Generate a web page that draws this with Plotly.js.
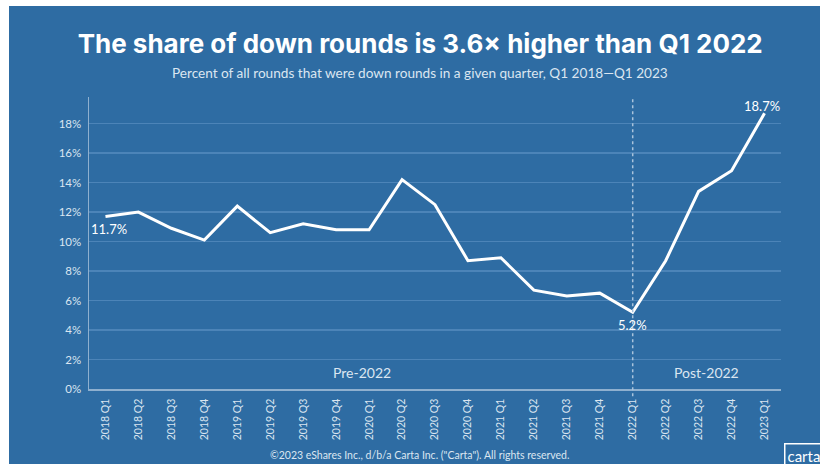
<!DOCTYPE html>
<html>
<head>
<meta charset="utf-8">
<script src="https://cdn.plot.ly/plotly-3.0.1.min.js"></script>
<style>
html,body{margin:0;padding:0;background:#ffffff;width:820px;height:464px;overflow:hidden;}
#chart{position:absolute;left:9px;top:6px;width:811px;height:458px;}
</style>
</head>
<body>
<div id="chart"></div>
<script>
const quarters = ["2018 Q1","2018 Q2","2018 Q3","2018 Q4","2019 Q1","2019 Q2","2019 Q3","2019 Q4",
  "2020 Q1","2020 Q2","2020 Q3","2020 Q4","2021 Q1","2021 Q2","2021 Q3","2021 Q4",
  "2022 Q1","2022 Q2","2022 Q3","2022 Q4","2023 Q1"];
const downRoundShare = [11.7,12.0,10.9,10.1,12.4,10.6,11.2,10.8,10.8,14.2,12.5,8.7,8.9,6.7,6.3,6.5,5.2,8.7,13.4,14.8,18.7];
const yTickVals = [0,2,4,6,8,10,12,14,16,18];
const yTickText = ["0%","2%","4%","6%","8%","10%","12%","14%","16%","18%"];

const BLUE = "#2e6ca3";
const LIGHT = "#dbe6f1";
const FONT = "Lato, 'Noto Sans', sans-serif";

const trace = {
  type: "scatter", mode: "lines",
  x: quarters, y: downRoundShare,
  line: {color: "#ffffff", width: 3},
  hoverinfo: "skip"
};

const layout = {
  width: 811, height: 458,
  paper_bgcolor: BLUE, plot_bgcolor: BLUE,
  margin: {l: 80, r: 39, t: 91, b: 75},
  showlegend: false,
  font: {family: FONT, color: LIGHT},
  title: {
    text: "<b>The share of down rounds is 3.6× higher than Q1 2022</b>",
    font: {family: "Inter, 'Noto Sans', sans-serif", size: 26, color: "#ffffff"},
    xref: "container", yref: "container", x: 0.507, y: 0.917,
    xanchor: "center", yanchor: "middle"
  },
  xaxis: {
    type: "category", range: [-0.5, 20.5], fixedrange: true,
    showgrid: false, zeroline: false,
    showline: true, linecolor: "#8fb0cf", linewidth: 1.5,
    ticks: "", tickangle: -90, ticklabelstandoff: 4,
    tickfont: {family: FONT, size: 10.5, color: LIGHT}
  },
  yaxis: {
    range: [0, 19.8], fixedrange: true,
    tickvals: yTickVals, ticktext: yTickText,
    showgrid: true, gridcolor: "#4c84b8", gridwidth: 1.2,
    zeroline: false,
    showline: true, linecolor: "#8fb0cf", linewidth: 1.5,
    ticks: "", ticklabelstandoff: 4,
    tickfont: {family: FONT, size: 11.5, color: LIGHT}
  },
  shapes: [{
    type: "line", xref: "x", yref: "paper",
    x0: "2022 Q1", x1: "2022 Q1", y0: -0.025, y1: 1,
    line: {color: "#a9c3dc", width: 1.5, dash: "dot"}
  }],
  annotations: [
    {xref: "paper", yref: "paper", x: 0.478, y: 1.082, xanchor: "center", yanchor: "middle",
     text: "Percent of all rounds that were down rounds in a given quarter, Q1 2018—Q1 2023",
     showarrow: false, font: {family: FONT, size: 13.6, color: LIGHT}},
    {xref: "x", yref: "y", x: quarters[0], y: downRoundShare[0], xanchor: "left", yanchor: "middle",
     xshift: -16, yshift: -13, text: "11.7%", showarrow: false,
     font: {family: FONT, size: 13, color: "#ffffff"}},
    {xref: "x", yref: "y", x: quarters[16], y: downRoundShare[16], xanchor: "center", yanchor: "middle",
     yshift: -13, text: "5.2%", showarrow: false,
     font: {family: FONT, size: 13, color: "#ffffff"}},
    {xref: "x", yref: "y", x: quarters[20], y: downRoundShare[20], xanchor: "center", yanchor: "middle",
     xshift: -3, yshift: 7, text: "18.7%", showarrow: false,
     font: {family: FONT, size: 13, color: "#ffffff"}},
    {xref: "paper", yref: "y", x: 0.394, y: 1.1, xanchor: "center", yanchor: "middle",
     text: "Pre-2022", showarrow: false, font: {family: FONT, size: 14, color: LIGHT}},
    {xref: "paper", yref: "y", x: 0.893, y: 1.1, xanchor: "center", yanchor: "middle",
     text: "Post-2022", showarrow: false, font: {family: FONT, size: 14, color: LIGHT}},
    {xref: "paper", yref: "paper", x: 0.478, y: -0.226, xanchor: "center", yanchor: "middle",
     text: "©2023 eShares Inc., d/b/a Carta Inc. (\"Carta\"). All rights reserved.",
     showarrow: false, font: {family: FONT, size: 10.5, color: LIGHT}},
    {xref: "paper", yref: "paper", x: 1.005, y: -0.228, xanchor: "left", yanchor: "middle",
     text: "carta", showarrow: false, bordercolor: "#ffffff", borderwidth: 1.5, borderpad: 2,
     font: {family: FONT, size: 15, color: "#ffffff"}}
  ]
};

Plotly.newPlot("chart", [trace], layout, {displayModeBar: false, staticPlot: true});
</script>
</body>
</html>
